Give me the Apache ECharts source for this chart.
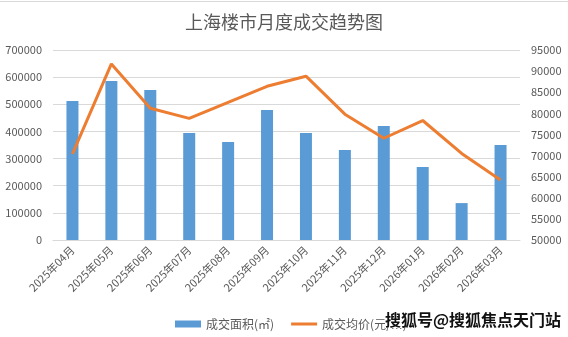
<!DOCTYPE html>
<html><head><meta charset="utf-8">
<script src="https://cdn.jsdelivr.net/npm/echarts@6/dist/echarts.min.js"></script>
<style>html,body{margin:0;padding:0;background:#fff}#c{width:568px;height:337px}</style>
</head><body><div id="c"></div>
<script>
const categories = ['2025年04月','2025年05月','2025年06月','2025年07月','2025年08月','2025年09月','2025年10月','2025年11月','2025年12月','2026年01月','2026年02月','2026年03月'];
const areaValues = [512000, 586000, 553000, 394000, 361000, 479000, 394000, 332000, 420000, 269000, 136000, 350000];
const priceValues = [70400, 91700, 81200, 78800, 82600, 86400, 88800, 79800, 74100, 78300, 70500, 64200];
const seriesNames = ['成交面积(㎡)', '成交均价(元/㎡)'];
const titleText = '上海楼市月度成交趋势图';
const watermark = '搜狐号@搜狐焦点天门站';

const font = '"Noto Sans CJK SC", "Microsoft YaHei", sans-serif';
const chart = echarts.init(document.getElementById('c'));
const plain = v => String(v);
chart.setOption({
  animation: false,
  textStyle: { fontFamily: font },
  title: { text: titleText, left: 'center', top: 8,
    textStyle: { fontSize: 18, fontWeight: 'normal', color: '#595959', fontFamily: font } },
  legend: { left: 170, top: 313, itemGap: 17, itemWidth: 26, itemHeight: 7,
    textStyle: { fontSize: 12, color: '#595959', fontFamily: font },
    data: [{ name: seriesNames[0], icon: 'rect' },
           { name: seriesNames[1], icon: 'path://M0,0h26v3h-26z' }] },
  grid: { left: 53, right: 48, top: 50, bottom: 97 },
  xAxis: { type: 'category', data: categories,
    axisLine: { lineStyle: { color: '#D9D9D9' } }, axisTick: { show: false },
    axisLabel: { rotate: 45, color: '#595959', fontSize: 11, margin: 8, interval: 0 } },
  yAxis: [
    { type: 'value', min: 0, max: 700000, interval: 100000,
      axisLabel: { color: '#595959', fontSize: 11, margin: 11, formatter: plain },
      splitLine: { lineStyle: { color: '#D9D9D9' } } },
    { type: 'value', min: 50000, max: 95000, interval: 5000,
      axisLabel: { color: '#595959', fontSize: 11, margin: 11, formatter: plain },
      splitLine: { show: false } }
  ],
  series: [
    { name: seriesNames[0], type: 'bar', data: areaValues, barWidth: 12,
      itemStyle: { color: '#5B9BD5' } },
    { name: seriesNames[1], type: 'line', yAxisIndex: 1, data: priceValues,
      symbol: 'none', lineStyle: { color: '#ED7D31', width: 3 }, itemStyle: { color: '#ED7D31' } }
  ],
  graphic: [
    { type: 'line', shape: { x1: 0, y1: 1.5, x2: 568, y2: 1.5 }, style: { stroke: '#D9D9D9', lineWidth: 1 } },
    { type: 'text', left: 385, top: 312, z: 100,
      style: { text: watermark, font: 'bold 16px ' + font, fill: '#111', backgroundColor: '#fff' } }
  ]
});
</script></body></html>
